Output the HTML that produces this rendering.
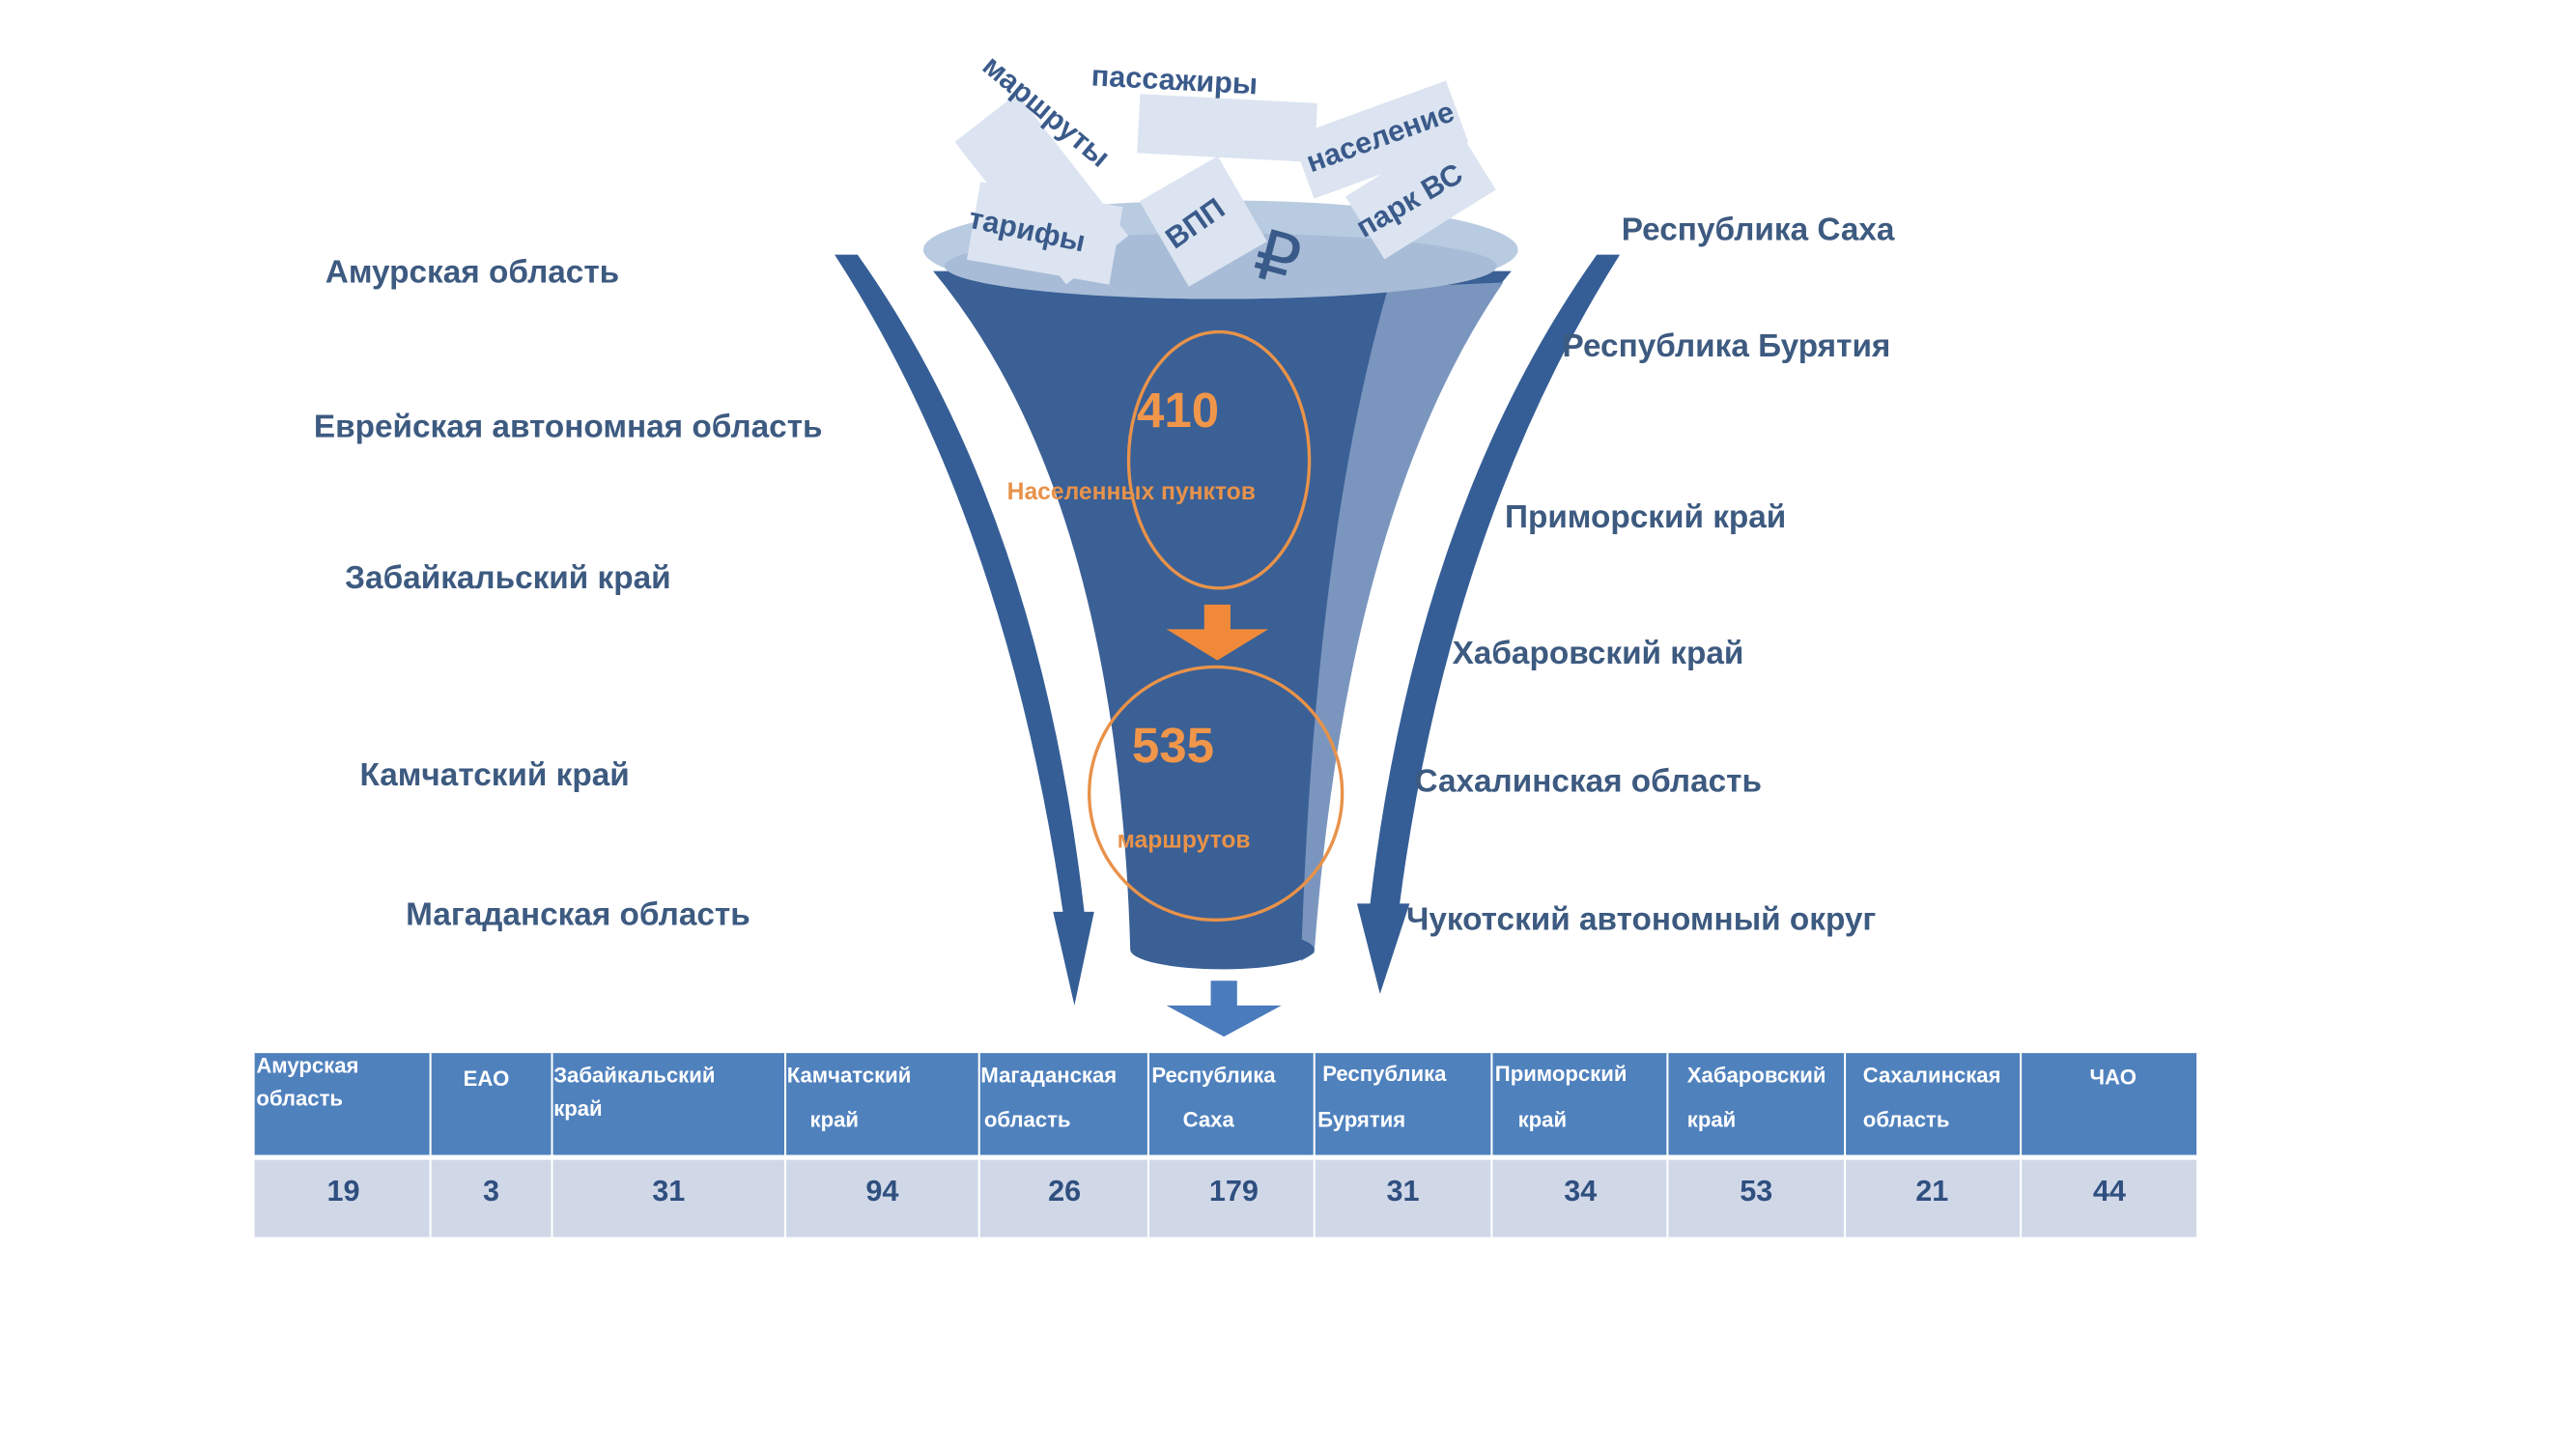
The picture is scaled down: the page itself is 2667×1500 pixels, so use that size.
<!DOCTYPE html>
<html><head><meta charset="utf-8"><style>
html,body{margin:0;padding:0;background:#fff;}
svg{display:block;}
text{font-family:"Liberation Sans",sans-serif;font-weight:bold;}
</style></head><body>
<svg width="2667" height="1500" viewBox="0 0 1568 882" preserveAspectRatio="none" xmlns="http://www.w3.org/2000/svg">
<rect width="1568" height="882" fill="#fff"/>
<path d="M508,155 L522,155 Q632,310 660,555 L666,555 L654,612 L641,555 L647,555 Q612,315 508,155 Z" fill="#355e96"/>
<path d="M972,155 L986,155 Q882,320 852,550 L858,550 L840,605 L826,550 L834,550 Q862,310 972,155 Z" fill="#355e96"/>
<path d="M568,165 Q680,300 688,578 L800,578 Q805,300 920,165 Z" fill="#3a6096"/>
<path d="M845,175 L915,172 Q820,310 800,580 L792,585 Q800,330 845,175 Z" fill="#7b96be"/>
<ellipse cx="744" cy="578" rx="56" ry="12" fill="#3a6096"/>
<ellipse cx="743" cy="152" rx="181" ry="30" fill="#b9cbe1"/>
<ellipse cx="743" cy="162" rx="168" ry="20" fill="#a8bcd7"/>
<g fill="#dbe4f0">
<rect x="592" y="118" width="88" height="48" transform="rotate(10 636 142)"/>
<rect x="610" y="60" width="48" height="110" transform="rotate(-38 634 115)"/>
<rect x="693" y="60" width="108" height="36" transform="rotate(3 747 78)"/>
<rect x="705" y="105" width="55" height="60" transform="rotate(-30 732 135)"/>
<rect x="790" y="65" width="100" height="40" transform="rotate(-20 840 85)"/>
<rect x="825" y="95" width="80" height="45" transform="rotate(-32 865 118)"/>
</g>
<g fill="#3a5a8a" font-size="18">
<text x="588" y="145" transform="rotate(12 620 145)">тарифы</text>
<text x="597" y="42" transform="rotate(40 597 42)">маршруты</text>
<text x="664" y="52" transform="rotate(3 664 52)">пассажиры</text>
<text x="798" y="105" transform="rotate(-20 798 105)">население</text>
<text x="830" y="145" transform="rotate(-30 830 145)">парк ВС</text>
<text x="715" y="152" transform="rotate(-35 715 152)">ВПП</text>
<text x="766" y="172" font-size="42" style="font-weight:normal" transform="rotate(15 780 150)">₽</text>
</g>
<ellipse cx="742" cy="280" rx="55" ry="78" fill="none" stroke="#e8924a" stroke-width="2"/>
<ellipse cx="740" cy="483" rx="77" ry="77" fill="none" stroke="#e8924a" stroke-width="2"/>
<text x="692" y="260" fill="#f0964a" font-size="30">410</text>
<text x="613" y="304" fill="#e8924a" font-size="14.5">Населенных пунктов</text>
<text x="689" y="464" fill="#f0964a" font-size="30">535</text>
<text x="680" y="516" fill="#e8924a" font-size="14.5">маршрутов</text>
<path d="M733,368 L749,368 L749,383 L772,383 L741,402 L710,383 L733,383 Z" fill="#f08a3a"/>
<path d="M737,597 L753,597 L753,612 L780,612 L745,631 L710,612 L737,612 Z" fill="#4a7bbd"/>
<g fill="#3d5a80" font-size="19.6">
<text x="198" y="172">Амурская область</text>
<text x="191" y="266">Еврейская автономная область</text>
<text x="210" y="358">Забайкальский край</text>
<text x="219" y="478">Камчатский край</text>
<text x="247" y="563">Магаданская область</text>
<text x="987" y="146">Республика Саха</text>
<text x="951" y="217">Республика Бурятия</text>
<text x="916" y="321">Приморский край</text>
<text x="884" y="404">Хабаровский край</text>
<text x="861" y="482">Сахалинская область</text>
<text x="856" y="566">Чукотский автономный округ</text>
</g>
<rect x="155" y="641" width="1182" height="62" fill="#4f81bd"/>
<rect x="155" y="706" width="1182" height="47" fill="#d0d8e8"/>
<g stroke="#fff" stroke-width="1.2">
<line x1="262" y1="641" x2="262" y2="753"/><line x1="336" y1="641" x2="336" y2="753"/>
<line x1="478" y1="641" x2="478" y2="753"/><line x1="596" y1="641" x2="596" y2="753"/>
<line x1="699" y1="641" x2="699" y2="753"/><line x1="800" y1="641" x2="800" y2="753"/>
<line x1="908" y1="641" x2="908" y2="753"/><line x1="1015" y1="641" x2="1015" y2="753"/>
<line x1="1123" y1="641" x2="1123" y2="753"/><line x1="1230" y1="641" x2="1230" y2="753"/>
</g>
<g fill="#fff" font-size="13">
<text x="156" y="653">Амурская</text><text x="156" y="673">область</text>
<text x="282" y="661">ЕАО</text>
<text x="337" y="659">Забайкальский</text><text x="337" y="679">край</text>
<text x="479" y="659">Камчатский</text><text x="493" y="686">край</text>
<text x="597" y="659">Магаданская</text><text x="599" y="686">область</text>
<text x="701" y="659">Республика</text><text x="720" y="686">Саха</text>
<text x="805" y="658">Республика</text><text x="802" y="686">Бурятия</text>
<text x="910" y="658">Приморский</text><text x="924" y="686">край</text>
<text x="1027" y="659">Хабаровский</text><text x="1027" y="686">край</text>
<text x="1134" y="659">Сахалинская</text><text x="1134" y="686">область</text>
<text x="1272" y="660">ЧАО</text>
</g>
<g fill="#2f4f7f" font-size="18" text-anchor="middle">
<text x="209" y="731">19</text><text x="299" y="731">3</text><text x="407" y="731">31</text>
<text x="537" y="731">94</text><text x="648" y="731">26</text><text x="751" y="731">179</text>
<text x="854" y="731">31</text><text x="962" y="731">34</text><text x="1069" y="731">53</text>
<text x="1176" y="731">21</text><text x="1284" y="731">44</text>
</g>
</svg>
</body></html>
